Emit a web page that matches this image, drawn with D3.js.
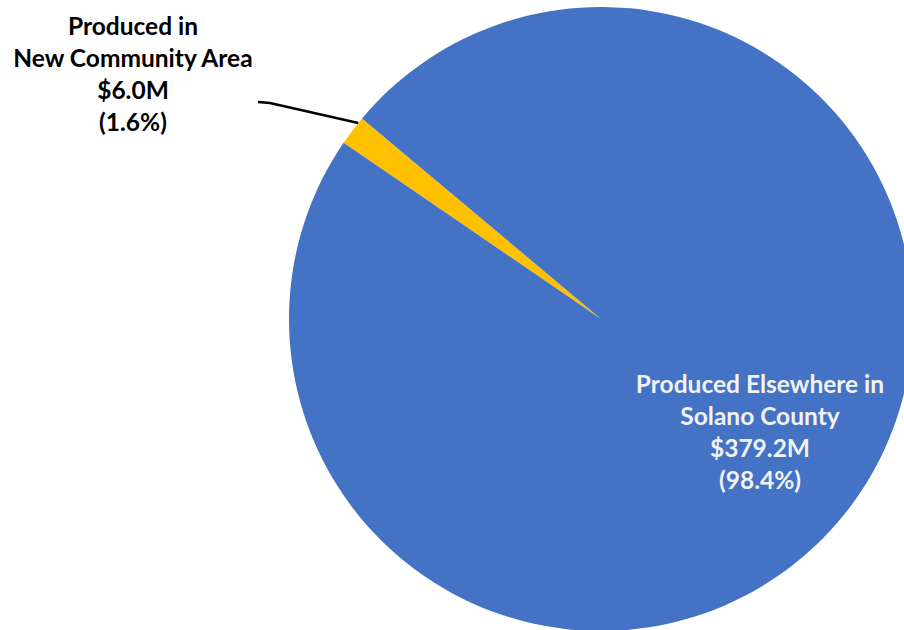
<!DOCTYPE html>
<html>
<head>
<meta charset="utf-8">
<script src="https://cdn.jsdelivr.net/npm/d3@7"></script>
<style>
  body { margin: 0; background: #fff; }
  text { font-family: Lato, "Open Sans", sans-serif; font-weight: bold; }
</style>
</head>
<body>
<svg id="chart"></svg>
<script>
// slice data
const categories = ["Produced in New Community Area", "Produced Elsewhere in Solano County"];
const values = [6.0, 379.2];
const valueLabels = ["$6.0M", "$379.2M"];
const pctLabels = ["(1.6%)", "(98.4%)"];
const labelLines = [["Produced in", "New Community Area"], ["Produced Elsewhere in", "Solano County"]];
const colors = ["#FFC000", "#4472C4"];

const width = 904, height = 630;
const cx = 601, cy = 319, radius = 312;

const svg = d3.select("#chart")
    .attr("width", width)
    .attr("height", height);

const data = categories.map((c, i) => ({name: c, value: values[i], i: i}));

// rotate so the small slice sits at the upper left like the original
const start = 304.4 * Math.PI / 180;
const pie = d3.pie()
    .sort(null)
    .value(d => d.value)
    .startAngle(start)
    .endAngle(start + 2 * Math.PI);

const arc = d3.arc().innerRadius(0).outerRadius(radius);
const arcs = pie(data);

const g = svg.append("g").attr("transform", `translate(${cx},${cy})`);

g.selectAll("path")
    .data(arcs)
    .enter().append("path")
    .attr("d", arc)
    .attr("fill", d => colors[d.data.i]);

// leader line for the small slice
const small = arcs[0];
const midA = (small.startAngle + small.endAngle) / 2 + 0.03;
const edge = [Math.sin(midA) * radius + cx, -Math.cos(midA) * radius + cy];
svg.append("polyline")
    .attr("points", [[258, 102], [270, 103], edge].map(p => p.join(",")).join(" "))
    .attr("fill", "none")
    .attr("stroke", "#000")
    .attr("stroke-width", 2.5);

function drawLabel(i, x, y0, fill) {
    const lines = labelLines[i].concat([valueLabels[i], pctLabels[i]]);
    svg.append("g")
        .selectAll("text")
        .data(lines)
        .enter().append("text")
        .attr("x", x)
        .attr("y", (d, k) => y0 + k * 32)
        .attr("text-anchor", "middle")
        .attr("fill", fill)
        .style("font-size", "24.5px")
        .text(d => d);
}

drawLabel(0, 133, 35, "#000");
drawLabel(1, 760, 393, "#f2f2f2");
</script>
</body>
</html>
